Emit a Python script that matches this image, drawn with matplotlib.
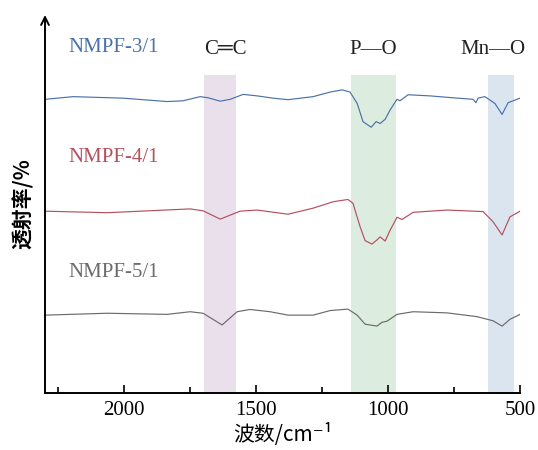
import matplotlib
matplotlib.use('Agg')
import matplotlib.pyplot as plt
import numpy as np

# Espectros FTIR (transmitância em unidades arbitrárias)
wn_31 = [2299, 2193, 2004, 1837, 1777, 1712, 1682, 1636, 1598, 1549, 1496, 1436, 1379,
         1284, 1220, 1174, 1144, 1117, 1095, 1064, 1045, 1030, 1011, 992, 966, 955, 924,
         841, 754, 678, 667, 659, 633, 595, 568, 545, 500]
t_31 = [77.7, 78.4, 78.0, 77.1, 77.3, 78.4, 78.1, 77.2, 77.7, 79.0, 78.6, 78.0, 77.6,
        78.4, 79.6, 80.2, 79.6, 76.6, 71.8, 70.3, 71.8, 71.3, 72.4, 74.9, 77.7, 77.3, 78.9,
        78.6, 78.1, 77.7, 76.8, 78.0, 78.4, 76.6, 73.7, 76.8, 78.0]

wn_41 = [2299, 2064, 1750, 1701, 1636, 1561, 1496, 1379, 1284, 1208, 1152, 1133, 1106,
         1087, 1061, 1042, 1030, 1011, 992, 966, 947, 905, 777, 640, 602, 568, 538, 500]
t_41 = [48.1, 47.7, 48.7, 48.2, 46.0, 48.1, 48.4, 47.3, 48.9, 50.6, 51.2, 50.2, 44.0,
        40.3, 39.4, 40.5, 41.3, 40.2, 43.1, 46.5, 45.9, 47.8, 48.4, 48.0, 45.3, 41.8, 46.6, 48.1]

wn_51 = [2299, 2064, 1837, 1750, 1701, 1629, 1572, 1523, 1447, 1379, 1284, 1220, 1152,
         1117, 1087, 1042, 1023, 1004, 966, 905, 777, 663, 602, 568, 538, 500]
t_51 = [20.6, 21.1, 20.8, 21.5, 21.1, 18.0, 21.5, 22.1, 21.5, 20.6, 20.6, 21.8, 22.2,
        20.6, 18.2, 17.7, 18.7, 19.0, 20.8, 21.5, 21.2, 20.2, 19.1, 17.7, 19.5, 20.8]

amostras = ['NMPF-3/1', 'NMPF-4/1', 'NMPF-5/1']
cores = ['#4a72a8', '#b5505d', '#6b6b6b']

# Bandas características
bandas = ['C═C', 'P—O', 'Mn—O']
bandas_lim = [(1697, 1576), (1140, 970), (621, 523)]
bandas_cor = ['#e9e0ec', '#dcecdf', '#dae5f0']

fam = ['Liberation Serif', 'Noto Sans CJK SC', 'DejaVu Sans']
fam_cjk = ['Noto Sans CJK SC', 'DejaVu Sans']
plt.rcParams['font.family'] = fam
plt.rcParams['font.size'] = 15

fig = plt.figure(figsize=(5.38, 4.5), dpi=100)
ax = fig.add_axes([45 / 538, 57 / 450, 475 / 538, 378 / 450])

for (a, b), c in zip(bandas_lim, bandas_cor):
    ax.axvspan(b, a, ymin=0, ymax=0.841, color=c, lw=0, zorder=0)

for wn, t, c in zip([wn_31, wn_41, wn_51], [t_31, t_41, t_51], cores):
    ax.plot(wn, t, color=c, lw=0.85, zorder=2)

ax.set_xlim(2300, 500)
ax.set_ylim(0, 100)

ax.set_xticks([2000, 1500, 1000, 500])
ax.set_xticks([2250, 1750, 1250, 750], minor=True)
ax.tick_params(axis='x', which='major', direction='in', length=6, width=1.2, labelsize=15, pad=6)
ax.tick_params(axis='x', which='minor', direction='in', length=4, width=1.2)
ax.set_yticks([])

for s in ['top', 'right', 'left']:
    ax.spines[s].set_visible(False)
ax.spines['bottom'].set_linewidth(1.4)
ax.annotate('', xy=(0, 1.0), xytext=(0, 0), xycoords='axes fraction',
            arrowprops=dict(arrowstyle='->', lw=1.4, color='black', mutation_scale=14,
                            shrinkA=0, shrinkB=0))

# Rótulos das amostras
for txt, y, c in zip(amostras, [91.3, 62.4, 32.0], cores):
    ax.text(2212, y, txt, color=c, fontsize=15, va='center', ha='left')

for txt, x in zip(bandas, [1617, 1057, 602]):
    ax.text(x, 91.0, txt, color='#222222', fontsize=15, va='center', ha='center',
            family=['Liberation Serif', 'DejaVu Sans'])

ax.set_xlabel('波数/cm⁻¹', fontsize=15, labelpad=2, family=fam_cjk)
ax.set_ylabel('透射率/%', fontsize=15, labelpad=8, family=fam_cjk, fontweight='bold')

fig.savefig('out.png', dpi=100)
